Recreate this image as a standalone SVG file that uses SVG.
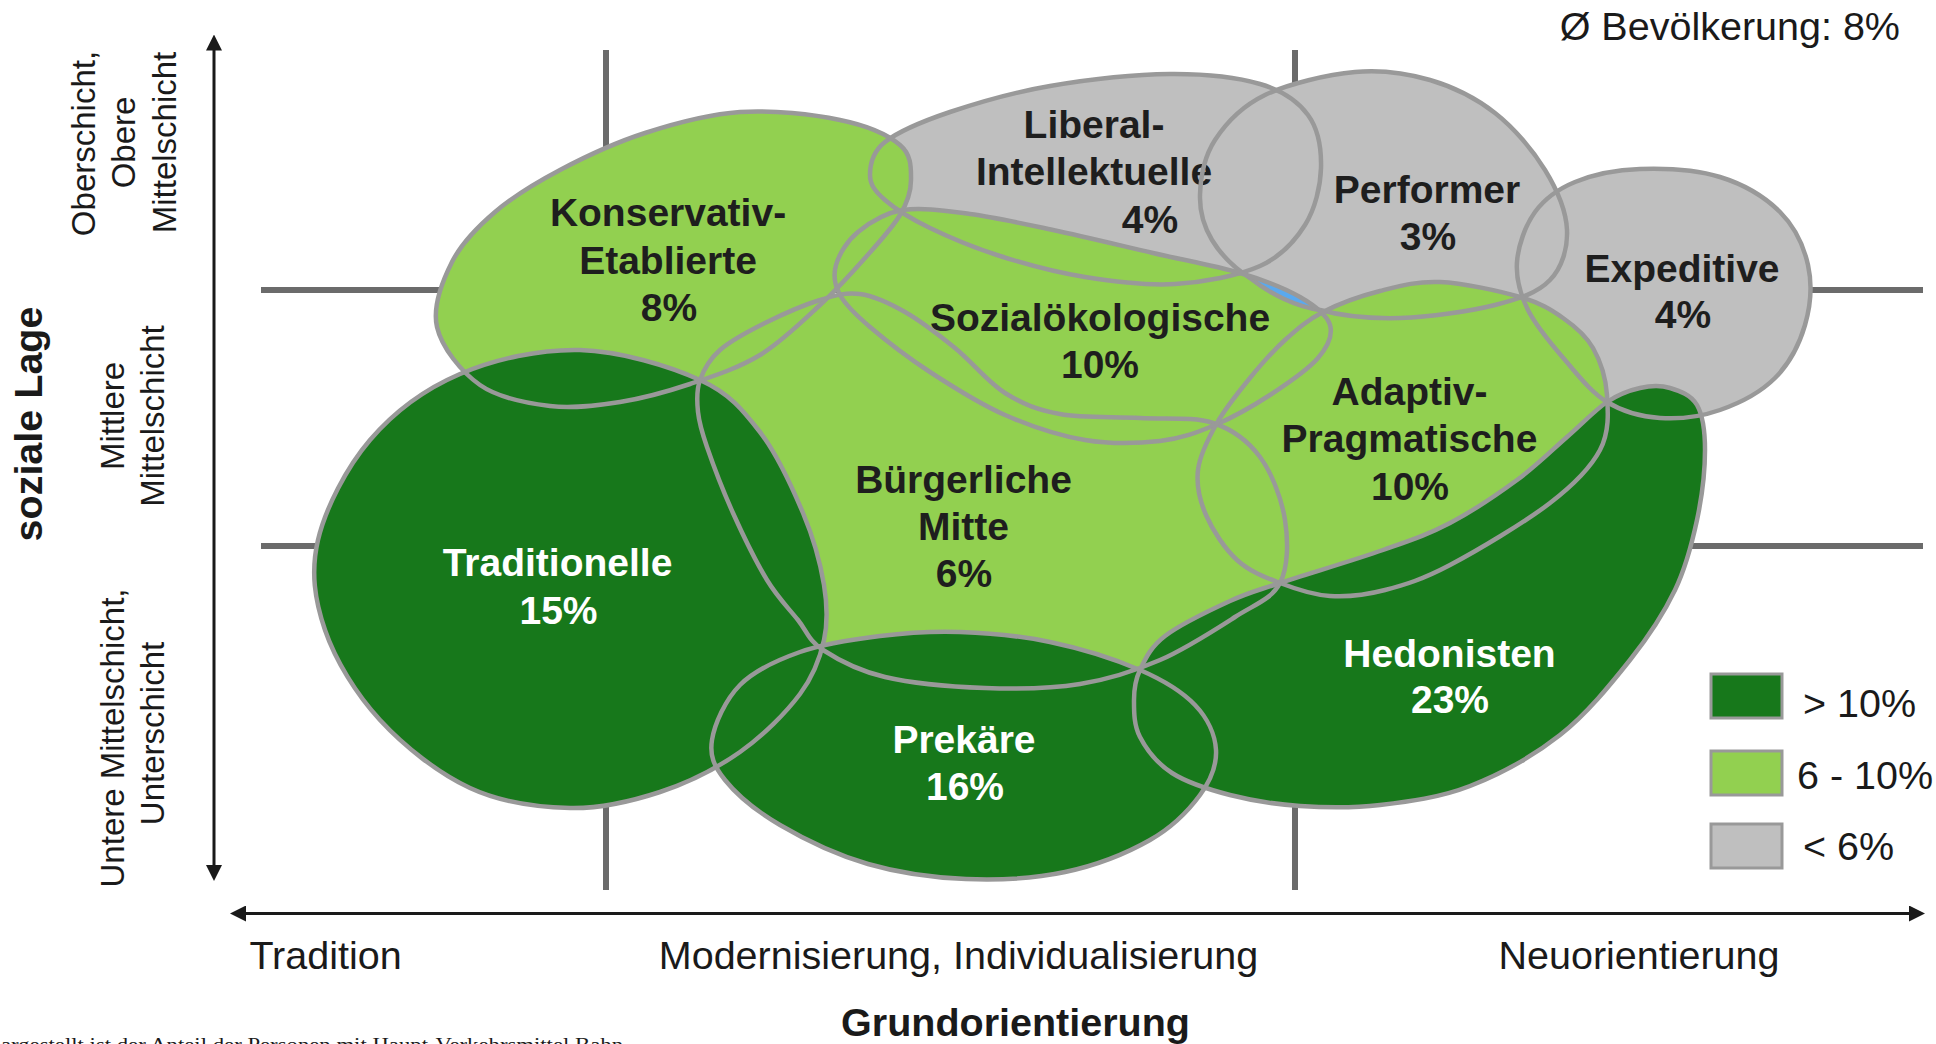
<svg xmlns="http://www.w3.org/2000/svg" xmlns:xlink="http://www.w3.org/1999/xlink" width="1936" height="1044" viewBox="0 0 1936 1044">
<style>
.grid{stroke:#6b6b6b;stroke-width:6;fill:none}
.axis{stroke:#1a1a1a;stroke-width:3;fill:none}
.dk{fill:#17781b}
.lt{fill:#92d050}
.gr{fill:#bfbfbf}
.ol{fill:none;stroke:#999999;stroke-width:4.5;stroke-linejoin:round}
.lbl{font-family:"Liberation Sans",Arial,Helvetica,sans-serif;font-weight:bold;font-size:39px;text-anchor:middle;fill:#1e1e1e}
.wl{fill:#ffffff}
.ax{font-family:"Liberation Sans",Arial,Helvetica,sans-serif;font-size:39.5px;fill:#1a1a1a}
.side{font-family:"Liberation Sans",Arial,Helvetica,sans-serif;font-size:33px;fill:#1a1a1a;text-anchor:middle}
.box{stroke:#999999;stroke-width:3}
</style>
<defs>
<marker id="ah" viewBox="0 0 16 16" refX="8" refY="8" markerWidth="16" markerHeight="16" markerUnits="userSpaceOnUse" orient="auto-start-reverse">
<path d="M0,0 L16,8 L0,16 Z" fill="#1a1a1a"/>
</marker>
</defs>
<rect x="0" y="0" width="1936" height="1044" fill="#ffffff"/>

<g id="grid">
<line class="grid" x1="606" y1="50" x2="606" y2="890"/>
<line class="grid" x1="1295" y1="50" x2="1295" y2="890"/>
<line class="grid" x1="261" y1="290" x2="1923" y2="290"/>
<line class="grid" x1="261" y1="546" x2="1923" y2="546"/>
</g>

<g id="axes">
<line class="axis" x1="214" y1="42.5" x2="214" y2="873" marker-start="url(#ah)" marker-end="url(#ah)"/>
<line class="axis" x1="238" y1="913.5" x2="1917" y2="913.5" marker-start="url(#ah)" marker-end="url(#ah)"/>
</g>

<g id="node-performer" class="gr">
<path id="shp-performer" d="M1200,195 C1200.5,178.3 1204.2,156.7 1215,140 C1225.8,123.3 1241.7,106.3 1265,95 C1288.3,83.7 1327.5,74.5 1355,72 C1382.5,69.5 1406.7,73.2 1430,80 C1453.3,86.8 1475.8,98 1495,113 C1514.2,128 1533,150.5 1545,170 C1557,189.5 1566.2,211.7 1567,230 C1567.8,248.3 1562,267.5 1550,280 C1538,292.5 1520,298.7 1495,305 C1470,311.3 1429.2,317.2 1400,318 C1370.8,318.8 1345,316.7 1320,310 C1296,306.5 1270,294 1250,278 C1232,266.3 1220.3,253.8 1212,240 C1203.7,226.2 1199.5,211.7 1200,195 Z"/>
<text class="lbl" x="1427" y="203">Performer</text>
<text class="lbl" x="1428" y="250">3%</text>
</g>

<g id="node-expeditive" class="gr">
<path id="shp-expeditive" d="M1517,262 C1518.2,245.7 1525.3,225.3 1535,212 C1544.7,198.7 1557.5,189.2 1575,182 C1592.5,174.8 1615.8,169.8 1640,169 C1664.2,168.2 1696.7,169.8 1720,177 C1743.3,184.2 1765.3,197.3 1780,212 C1794.7,226.7 1803.8,246.2 1808,265 C1812.2,283.8 1810.5,306.2 1805,325 C1799.5,343.8 1789.2,363.8 1775,378 C1760.8,392.2 1739.2,403.3 1720,410 C1700.8,416.7 1678.8,419.3 1660,418 C1641.2,416.7 1622.8,411.7 1607,402 C1591.2,392.3 1578.2,375.3 1565,360 C1551.8,344.7 1536,326.3 1528,310 C1520,293.7 1515.8,278.3 1517,262 Z"/>
<text class="lbl" x="1682" y="282">Expeditive</text>
<text class="lbl" x="1683" y="328">4%</text>
</g>

<g id="node-liberal" class="gr">
<path id="shp-liberal" d="M870,175 C870,165.3 871.7,152.5 885,142 C898.3,131.5 922.5,121.3 950,112 C977.5,102.7 1013.3,92.3 1050,86 C1086.7,79.7 1135,74.3 1170,74 C1205,73.7 1237,77.2 1260,84 C1283,90.8 1297.8,101 1308,115 C1318.2,129 1321.5,149.7 1321,168 C1320.5,186.3 1315.2,208.7 1305,225 C1294.8,241.3 1281.7,256.2 1260,266 C1238.3,275.8 1204.2,282.2 1175,284 C1145.8,285.8 1114.2,281.7 1085,277 C1055.8,272.3 1025.8,264.2 1000,256 C974.2,247.8 949.2,237.3 930,228 C910.8,218.7 895,208.8 885,200 C875,191.2 870,184.7 870,175 Z"/>
<text class="lbl" x="1094" y="138">Liberal-</text>
<text class="lbl" x="1094" y="185">Intellektuelle</text>
<text class="lbl" x="1150" y="233">4%</text>
</g>

<g id="node-konservativ" class="lt">
<path id="shp-konservativ" d="M437,327 C432.3,306.5 442.3,281.2 452,262 C461.7,242.8 477,227.3 495,212 C513,196.7 535,183.2 560,170 C585,156.8 615,142.7 645,133 C675,123.3 707.5,114.2 740,112 C772.5,109.8 813.3,114.5 840,120 C866.7,125.5 888.2,135 900,145 C911.8,155 911,168.3 911,180 C911,191.7 907.7,202 900,215 C892.3,228 878.3,243 865,258 C851.7,273 837.5,288.8 820,305 C802.5,321.2 781.7,341.8 760,355 C738.3,368.2 713.3,376.2 690,384 C666.7,391.8 643.3,398.3 620,402 C596.7,405.7 573.3,408.8 550,406 C526.7,403.2 498.8,398.2 480,385 C461.2,371.8 441.7,347.5 437,327 Z"/>
<text class="lbl" x="668" y="226">Konservativ-</text>
<text class="lbl" x="668" y="274">Etablierte</text>
<text class="lbl" x="669" y="321">8%</text>
</g>

<g id="node-buergerliche-mitte" class="lt">
<path id="shp-bm" d="M700,380 C703.7,369.7 709.2,359.5 720,350 C730.8,340.5 748.3,331.3 765,323 C781.7,314.7 804.2,304.8 820,300 C835.8,295.2 845.8,292 860,294 C874.2,296 889.2,303 905,312 C920.8,321 938.3,334.5 955,348 C971.7,361.5 987.5,382 1005,393 C1022.5,404 1037.5,409.8 1060,414 C1082.5,418.2 1114.5,416.5 1140,418 C1165.5,419.5 1193,416.5 1213,423 C1233,429.5 1248,440.8 1260,457 C1272,473.2 1281.7,499 1285,520 C1288.3,541 1288.3,566.8 1280,583 C1271.7,599.2 1255,604.2 1235,617 C1215,629.8 1185.8,648.8 1160,660 C1134.2,671.2 1109.2,679.3 1080,684 C1050.8,688.7 1017.5,689.2 985,688 C952.5,686.8 912,683.3 885,677 C858,670.7 837.5,659.5 823,650 C808.5,640.5 807.3,631.7 798,620 C788.7,608.3 777.8,597.8 767,580 C756.2,562.2 743,535.2 733,513 C723,490.8 712.8,463.8 707,447 C701.2,430.2 699.2,423.2 698,412 C696.8,400.8 696.3,390.3 700,380 Z"/>
<text class="lbl" x="963.5" y="493">Bürgerliche</text>
<text class="lbl" x="963.5" y="540">Mitte</text>
<text class="lbl" x="964" y="587">6%</text>
</g>

<g id="node-sozialoekologische" class="lt">
<path id="shp-sozial" d="M903,210 C921.7,207 945,210.7 970,214 C995,217.3 1022.5,223.5 1053,230 C1083.5,236.5 1121.8,245.8 1153,253 C1184.2,260.2 1215.5,265.7 1240,273 C1264.5,280.3 1285,288.3 1300,297 C1315,305.7 1327,314.8 1330,325 C1333,335.2 1328,346.3 1318,358 C1308,369.7 1287.2,383.8 1270,395 C1252.8,406.2 1233.3,417.3 1215,425 C1196.7,432.7 1181.7,438.5 1160,441 C1138.3,443.5 1110.8,444.3 1085,440 C1059.2,435.7 1030.8,426.3 1005,415 C979.2,403.7 952.5,386.7 930,372 C907.5,357.3 885,339.8 870,327 C855,314.2 845.7,305.3 840,295 C834.3,284.7 833,275.5 836,265 C839,254.5 846.8,241.2 858,232 C869.2,222.8 884.3,213 903,210 Z"/>
<text class="lbl" x="1100" y="331">Sozialökologische</text>
<text class="lbl" x="1100" y="378">10%</text>
</g>

<g id="node-adaptiv" class="lt">
<path id="shp-adaptiv" d="M1323,312 C1338.8,303.8 1360.5,296 1380,291 C1399.5,286 1416.7,281 1440,282 C1463.3,283 1499.5,291 1520,297 C1540.5,303 1550.8,309.5 1563,318 C1575.2,326.5 1585.7,335.2 1593,348 C1600.3,360.8 1605.8,378 1607,395 C1608.2,412 1609.5,432 1600,450 C1590.5,468 1575,483.8 1550,503 C1525,522.2 1477.5,550.5 1450,565 C1422.5,579.5 1405,584.8 1385,590 C1365,595.2 1347.5,597.2 1330,596 C1312.5,594.8 1295.5,589 1280,583 C1264.5,577 1249.3,571.3 1237,560 C1224.7,548.7 1212.5,530 1206,515 C1199.5,500 1196.2,485.3 1198,470 C1199.8,454.7 1208.3,438.3 1217,423 C1225.7,407.7 1238.7,391.8 1250,378 C1261.3,364.2 1272.8,351 1285,340 C1297.2,329 1307.2,320.2 1323,312 Z"/>
<text class="lbl" x="1409.5" y="405">Adaptiv-</text>
<text class="lbl" x="1409.5" y="452">Pragmatische</text>
<text class="lbl" x="1410" y="500">10%</text>
</g>

<g id="node-traditionelle" class="dk">
<path id="shp-traditionelle" d="M700,380 C670,366.3 620,351 580,350 C540,349 495,359 460,374 C425,389 393.7,412.3 370,440 C346.3,467.7 325.5,508.3 318,540 C310.5,571.7 314.7,600 325,630 C335.3,660 355.8,693.7 380,720 C404.2,746.3 438.3,773.3 470,788 C501.7,802.7 538.3,807.3 570,808 C601.7,808.7 631.7,801.3 660,792 C688.3,782.7 716.7,768.3 740,752 C763.3,735.7 786,712.7 800,694 C814,675.3 820,658.2 824,640 C828,621.8 827.5,606.2 824,585 C820.5,563.8 813.7,538.5 803,513 C792.3,487.5 777.2,454.2 760,432 C742.8,409.8 730,393.7 700,380 Z"/>
<text class="lbl wl" x="557.5" y="576">Traditionelle</text>
<text class="lbl wl" x="558.5" y="624">15%</text>
</g>

<g id="node-prekaere" class="dk">
<path id="shp-prekaere" d="M712,740 C714.5,724.2 725.3,699.7 740,685 C754.7,670.3 776.7,660.2 800,652 C823.3,643.8 853.3,639.3 880,636 C906.7,632.7 931.7,631 960,632 C988.3,633 1020,635.7 1050,642 C1080,648.3 1115.8,659.5 1140,670 C1164.2,680.5 1182.3,691.7 1195,705 C1207.7,718.3 1215.2,735 1216,750 C1216.8,765 1211,780 1200,795 C1189,810 1172.5,827.2 1150,840 C1127.5,852.8 1095.7,865.5 1065,872 C1034.3,878.5 998.8,880.3 966,879 C933.2,877.7 899,873 868,864 C837,855 803.8,839 780,825 C756.2,811 736.3,794.2 725,780 C713.7,765.8 709.5,755.8 712,740 Z"/>
<text class="lbl wl" x="964" y="753">Prekäre</text>
<text class="lbl wl" x="965" y="800">16%</text>
</g>

<g id="node-hedonisten" class="dk">
<path id="shp-hedonisten" d="M1607,402 C1619.2,393.8 1629.5,390.3 1640,388 C1650.5,385.7 1660.5,385.2 1670,388 C1679.5,390.8 1691.2,394.7 1697,405 C1702.8,415.3 1705,430.8 1705,450 C1705,469.2 1702,496.7 1697,520 C1692,543.3 1686.2,566.7 1675,590 C1663.8,613.3 1649.2,635.8 1630,660 C1610.8,684.2 1586.7,714 1560,735 C1533.3,756 1500,774.3 1470,786 C1440,797.7 1408.3,801.7 1380,805 C1351.7,808.3 1325,807.7 1300,806 C1275,804.3 1251.3,800.5 1230,795 C1208.7,789.5 1187,782.7 1172,773 C1157,763.3 1146.3,749.2 1140,737 C1133.7,724.8 1134,711.2 1134,700 C1134,688.8 1134.8,680.7 1140,670 C1145.2,659.3 1150,647.5 1165,636 C1180,624.5 1210.8,609.8 1230,601 C1249.2,592.2 1254.5,591.5 1280,583 C1305.5,574.5 1354.7,560 1383,550 C1411.3,540 1427.7,534.7 1450,523 C1472.3,511.3 1497.5,494.3 1517,480 C1536.5,465.7 1552,450 1567,437 C1582,424 1594.8,410.2 1607,402 Z"/>
<text class="lbl wl" x="1449.5" y="667">Hedonisten</text>
<text class="lbl wl" x="1450" y="713">23%</text>
</g>

<g id="connectors">
<path d="M1240,273 C1264.5,280.3 1285,288.3 1300,297 L1321,311 C1296,306.5 1270,294 1250,278 Z" fill="#5aa9ee"/>
<use xlink:href="#shp-performer" href="#shp-performer" class="ol"/>
<use xlink:href="#shp-expeditive" href="#shp-expeditive" class="ol"/>
<use xlink:href="#shp-liberal" href="#shp-liberal" class="ol"/>
<use xlink:href="#shp-konservativ" href="#shp-konservativ" class="ol"/>
<use xlink:href="#shp-bm" href="#shp-bm" class="ol"/>
<use xlink:href="#shp-sozial" href="#shp-sozial" class="ol"/>
<use xlink:href="#shp-adaptiv" href="#shp-adaptiv" class="ol"/>
<use xlink:href="#shp-traditionelle" href="#shp-traditionelle" class="ol"/>
<use xlink:href="#shp-prekaere" href="#shp-prekaere" class="ol"/>
<use xlink:href="#shp-hedonisten" href="#shp-hedonisten" class="ol"/>
</g>

<g id="axis-labels">
<text class="ax" x="1900" y="40" text-anchor="end">Ø Bevölkerung: 8%</text>
<text class="ax" x="325.5" y="969" text-anchor="middle">Tradition</text>
<text class="ax" x="958.5" y="969" text-anchor="middle">Modernisierung, Individualisierung</text>
<text class="ax" x="1639" y="969" text-anchor="middle">Neuorientierung</text>
<text class="ax" x="1015.5" y="1036" text-anchor="middle" font-weight="bold">Grundorientierung</text>
<text class="ax" text-anchor="middle" font-weight="bold" font-size="39" transform="translate(42,424) rotate(-90)">soziale Lage</text>
<text class="side" transform="translate(95,143.5) rotate(-90)">Oberschicht,</text>
<text class="side" transform="translate(135,142.5) rotate(-90)">Obere</text>
<text class="side" transform="translate(176,142.5) rotate(-90)">Mittelschicht</text>
<text class="side" transform="translate(124,416) rotate(-90)">Mittlere</text>
<text class="side" transform="translate(164,416) rotate(-90)">Mittelschicht</text>
<text class="side" transform="translate(124,738) rotate(-90)">Untere Mittelschicht,</text>
<text class="side" transform="translate(164,733.5) rotate(-90)">Unterschicht</text>
<text x="1" y="1051" font-family="'Liberation Serif','Times New Roman',serif" font-size="18" fill="#1a1a1a" textLength="622" lengthAdjust="spacingAndGlyphs">argestellt ist der Anteil der Personen mit Haupt-Verkehrsmittel Bahn</text>
</g>

<g id="legend">
<rect class="box dk" x="1711" y="674" width="71" height="44"/>
<rect class="box lt" x="1711" y="751" width="71" height="44"/>
<rect class="box gr" x="1711" y="824" width="71" height="44"/>
<text class="ax" x="1803" y="717" font-size="39">&gt; 10%</text>
<text class="ax" x="1797" y="789" font-size="39">6 - 10%</text>
<text class="ax" x="1803" y="860" font-size="39">&lt; 6%</text>
</g>
</svg>
